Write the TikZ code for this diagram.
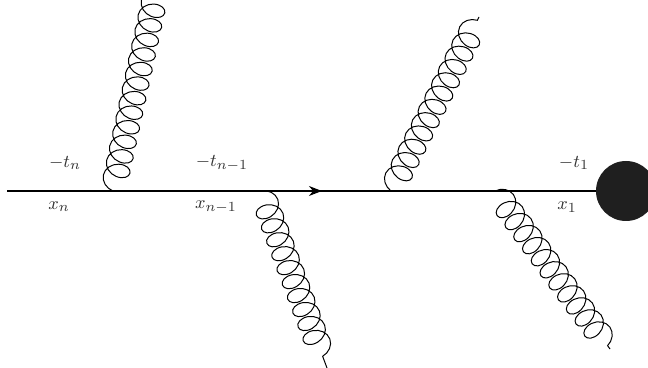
\documentclass[tikz,border=0pt]{standalone}
\usepackage{amsmath}
\usepackage{xcolor}
\usepackage{tikz}
\usetikzlibrary{arrows.meta, decorations.pathmorphing, decorations.markings}

\begin{document}
\begin{tikzpicture}[
  x=0.5pt, y=-0.5pt,
  gluon/.style={decorate, decoration={coil, aspect=0.78, segment length=7.45pt, amplitude=6.4pt}, line width=0.5pt},
  quark/.style={line width=0.55pt, postaction={decorate}, decoration={markings,
                mark=at position 0.535 with {\arrow{Stealth[length=6.5pt,width=5pt]}}}},
  blob/.style={circle, fill=black!88, minimum size=30pt, inner sep=0pt},
  label/.style={text=black!80, inner sep=0pt, font=\fontsize{9.5}{11}\selectfont}
]
  \useasboundingbox (0,0) rectangle (648,368);
  \clip (0,0) rectangle (648,368);

  \coordinate (start) at (7,191);
  \node[blob] (core) at (626,191) {};

  \coordinate (v1) at (113,191);
  \coordinate (v2) at (261,191);
  \coordinate (v3) at (391,191);
  \coordinate (v4) at (495,191);
  \coordinate (g1) at (158,-16);
  \coordinate (g2) at (327,368);
  \coordinate (g3) at (479,17);
  \coordinate (g4) at (610,349);

  \draw[quark] (start) -- (core);
  \draw[gluon] (v1) -- (g1);
  \draw[gluon] (v2) -- (g2);
  \draw[gluon] (v3) -- (g3);
  \draw[gluon] (v4) -- (g4);

  \node[label] (tn) at (65,163) {$-t_n$};
  \node[label] (tm) at (222,163) {$-t_{n-1}$};
  \node[label] (t1) at (574,163) {$-t_1$};
  \node[label] (xn) at (59,207) {$x_n$};
  \node[label] (xm) at (216,207) {$x_{n-1}$};
  \node[label] (x1) at (567,207) {$x_1$};
\end{tikzpicture}
\end{document}
